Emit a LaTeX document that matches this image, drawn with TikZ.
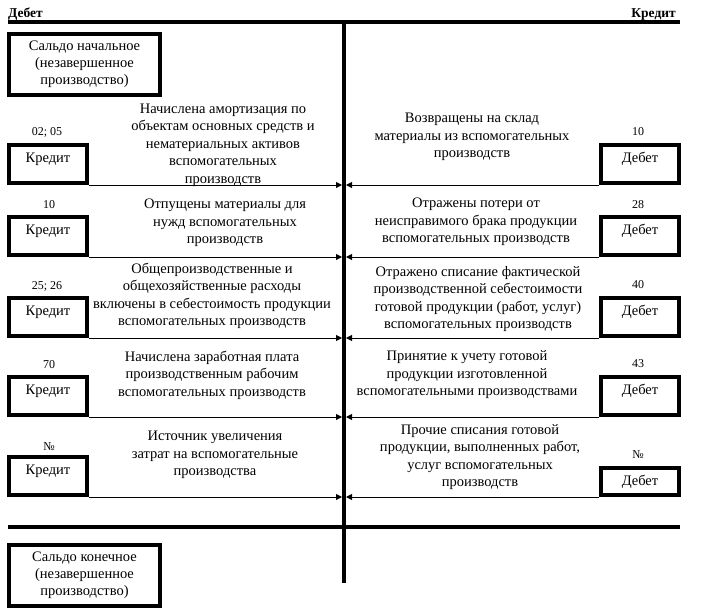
\documentclass[tikz,border=0pt]{standalone}
\usepackage{fontspec}
\setmainfont{Liberation Serif}
\usetikzlibrary{arrows.meta,calc}
\begin{document}
\begin{tikzpicture}[x=1pt,y=-1pt,
  txt/.style={align=center, inner sep=0pt, font=\fontsize{14.5}{17.5}\selectfont},
  num/.style={inner sep=0pt, font=\fontsize{12}{14}\selectfont},
  hdr/.style={inner sep=0pt, font=\bfseries\fontsize{13.5}{16}\selectfont},
  acct/.style={draw, line width=4pt, inner sep=0pt, minimum width=78pt, minimum height=38pt,
     text height=17pt, text depth=21pt, font=\fontsize{14.5}{17.5}\selectfont},
  saldo/.style={draw, line width=4pt, inner sep=0pt, minimum width=151pt, minimum height=61pt,
     align=center, font=\fontsize{14.5}{17}\selectfont},
  thick line/.style={line width=4pt},
  arr/.style={line width=1pt, -{Triangle[length=6pt,width=6pt]}}
]
\useasboundingbox (0,0) rectangle (705,610);
% headers
\node[hdr, anchor=base west] (hdeb) at (8,18) {Дебет};
\node[hdr, anchor=base east] (hkred) at (676,18) {Кредит};
% T-account lines
\coordinate (tl) at (8,22);
\coordinate (tr) at (680,22);
\coordinate (vt) at (344,22);
\coordinate (vb) at (344,583);
\coordinate (bl) at (8,527);
\coordinate (br) at (680,527);
\draw[line width=3.5pt] (tl) -- (tr);
\draw[thick line] (vt) -- (vb);
\draw[thick line] (bl) -- (br);
\coordinate (L) at (342,0);
\coordinate (R) at (346,0);
% saldo boxes
\node[saldo] (s1) at (84.5,64.5) {Сальдо начальное\\(незавершенное\\производство)};
\node[saldo] (s2) at (84.5,575) {Сальдо конечное\\(незавершенное\\производство)};
% left boxes
\node[acct] (k1) at (48,164) {Кредит};
\node[acct] (k2) at (48,236) {Кредит};
\node[acct] (k3) at (48,317) {Кредит};
\node[acct] (k4) at (48,396) {Кредит};
\node[acct] (k5) at (48,476) {Кредит};
% right boxes
\node[acct] (d1) at (640,164) {Дебет};
\node[acct] (d2) at (640,236) {Дебет};
\node[acct] (d3) at (640,317) {Дебет};
\node[acct] (d4) at (640,396) {Дебет};
\node[acct, minimum height=27pt, text height=17.5pt, text depth=9.5pt] (d5) at (640,481.5) {Дебет};
% account numbers
\node[num] (nk1) at (47,132) {02; 05};
\node[num] (nk2) at (49,205) {10};
\node[num] (nk3) at (47,286) {25; 26};
\node[num] (nk4) at (49,365) {70};
\node[num] (nk5) at (49,447) {№};
\node[num] (nd1) at (638,132) {10};
\node[num] (nd2) at (638,205) {28};
\node[num] (nd3) at (638,285) {40};
\node[num] (nd4) at (638,364) {43};
\node[num] (nd5) at (638,455) {№};
% descriptions left
\node[txt] (t1) at (223,145) {Начислена амортизация по\\объектам основных средств и\\нематериальных активов\\вспомогательных\\производств};
\node[txt] (t2) at (225,223) {Отпущены материалы для\\нужд вспомогательных\\производств};
\node[txt] (t3) at (212,296) {Общепроизводственные и\\общехозяйственные расходы\\включены в себестоимость продукции\\вспомогательных производств};
\node[txt] (t4) at (212,375) {Начислена заработная плата\\производственным рабочим\\вспомогательных производств};
\node[txt] (t5) at (215,455) {Источник увеличения\\затрат на вспомогательные\\производства};
% descriptions right
\node[txt] (u1) at (472,137) {Возвращены на склад\\материалы из вспомогательных\\производств};
\node[txt] (u2) at (476,222) {Отражены потери от\\неисправимого брака продукции\\вспомогательных производств};
\node[txt] (u3) at (478,299) {Отражено списание фактической\\производственной себестоимости\\готовой продукции (работ, услуг)\\вспомогательных производств};
\node[txt] (u4) at (467,375) {Принятие к учету готовой\\продукции изготовленной\\вспомогательными производствами};
\node[txt] (u5) at (480,457) {Прочие списания готовой\\продукции, выполненных работ,\\услуг вспомогательных\\производств};
% arrows
\foreach \i in {1,...,5}{
  \draw[arr] (k\i.south east) -- (k\i.south east -| L);
  \draw[arr] (d\i.south west) -- (d\i.south west -| R);
}
\end{tikzpicture}
\end{document}
